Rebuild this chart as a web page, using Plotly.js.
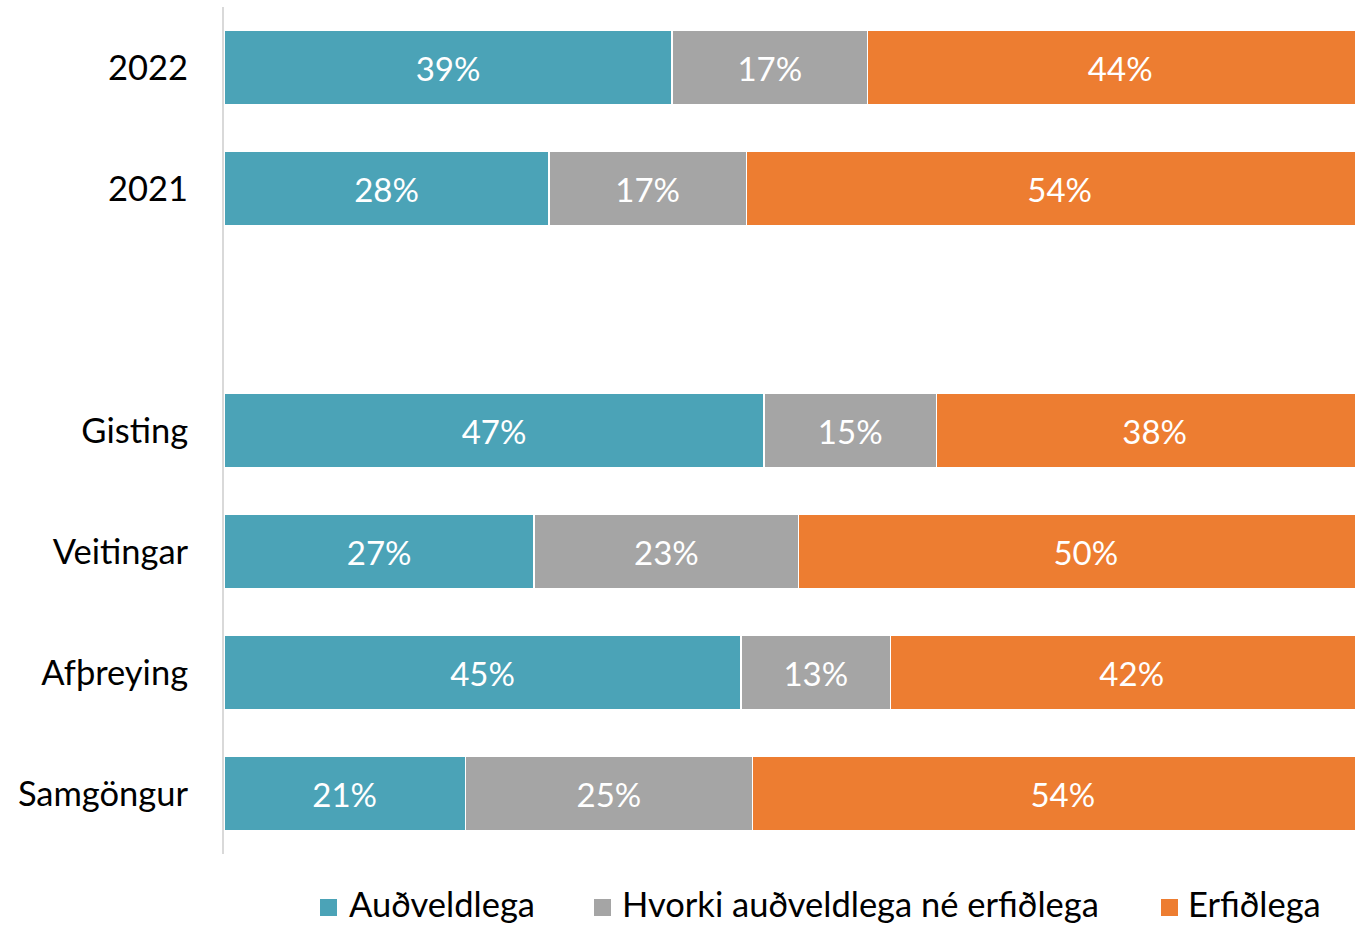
<!DOCTYPE html>
<html>
<head>
<meta charset="utf-8">
<script src="https://cdn.plot.ly/plotly-3.0.1.min.js"></script>
<style>
html, body { margin: 0; padding: 0; overflow: hidden; background: #ffffff; }
#wrap { width: 1355px; height: 926px; overflow: hidden; }
#chart { width: 1400px; height: 926px; }
</style>
</head>
<body>
<div id="wrap"><div id="chart"></div></div>
<script>
// Categories, top to bottom (the blank one is the spacer row)
const categories = ['2022', '2021', ' ', 'Gisting', 'Veitingar', 'Afþreying', 'Samgöngur'];
const seriesNames = ['Auðveldlega', 'Hvorki auðveldlega né erfiðlega', 'Erfiðlega'];
const audveldlega = [39, 28, null, 47, 27, 45, 21];
const hvorki      = [17, 17, null, 15, 23, 13, 25];
const erfidlega   = [44, 54, null, 38, 50, 42, 54];
const colors = ['#4BA3B7', '#A5A5A5', '#ED7D31'];

const FONT = 'Lato, "Open Sans", sans-serif';
const series = [audveldlega, hvorki, erfidlega];

// plot-area geometry in pixels (used only to place the hand-built legend)
const W = 1400, H = 926;
const M = { l: 224, r: 27, t: 7, b: 72 };
const plotW = W - M.l - M.r, plotH = H - M.t - M.b;
const px2x = px => (px - M.l) / plotW;
const px2y = py => (H - M.b - py) / plotH;

const traces = series.map((vals, i) => ({
  type: 'bar',
  orientation: 'h',
  name: seriesNames[i],
  y: categories,
  x: vals,
  text: vals.map(v => v == null ? '' : v + '%'),
  textposition: 'inside',
  insidetextanchor: 'middle',
  textangle: 0,
  constraintext: 'none',
  textfont: { family: FONT, size: 33, color: '#ffffff' },
  marker: { color: colors[i], line: { color: '#ffffff', width: 1.5 } },
  hoverinfo: 'name+x',
  showlegend: false
}));

// legend entries: square start x and text start x (pixels)
const legendSquareX = [320, 594, 1161];
const legendTextX = [347, 620, 1186];
const squareY = 907.5, textY = 904, sq = 17;

const shapes = seriesNames.map((n, i) => ({
  type: 'rect', xref: 'paper', yref: 'paper',
  x0: px2x(legendSquareX[i]), x1: px2x(legendSquareX[i] + sq),
  y0: px2y(squareY + sq / 2), y1: px2y(squareY - sq / 2),
  fillcolor: colors[i], line: { width: 0 }
}));
const annotations = seriesNames.map((n, i) => ({
  xref: 'paper', yref: 'paper',
  x: px2x(legendTextX[i]), y: px2y(textY),
  xanchor: 'left', yanchor: 'middle',
  text: n, showarrow: false,
  font: { family: FONT, size: 34.5, color: '#000000' }
}));

const layout = {
  width: W,
  height: H,
  margin: M,
  paper_bgcolor: '#ffffff',
  plot_bgcolor: '#ffffff',
  barmode: 'stack',
  barnorm: 'percent',
  bargap: 0.39,
  font: { family: FONT, size: 33, color: '#000000' },
  xaxis: {
    range: [0, 100],
    visible: false,
    showgrid: false,
    zeroline: false,
    fixedrange: true
  },
  yaxis: {
    type: 'category',
    categoryorder: 'array',
    categoryarray: categories,
    autorange: 'reversed',
    showgrid: false,
    zeroline: false,
    showline: true,
    linecolor: '#D9D9D9',
    linewidth: 2,
    ticks: '',
    ticklabelstandoff: 27,
    tickfont: { family: FONT, size: 34.5, color: '#000000' },
    fixedrange: true
  },
  showlegend: false,
  shapes: shapes,
  annotations: annotations
};

Plotly.newPlot('chart', traces, layout, { displayModeBar: false });
</script>
</body>
</html>
